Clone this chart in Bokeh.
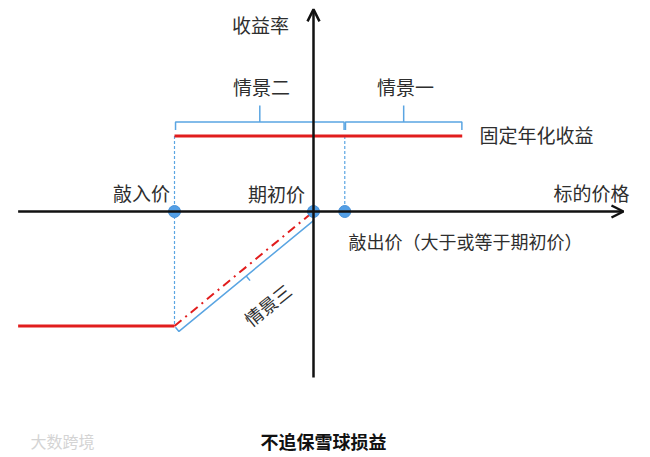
from bokeh.plotting import figure
from bokeh.models import Range1d, ColumnDataSource, Arrow, OpenHead
from bokeh.core.properties import value
from bokeh.embed import file_html
from bokeh.resources import INLINE

# ---------------- data (schematic values) ----------------
knock_in_price = 80.0          # 敲入价
initial_price = 100.0          # 期初价
knock_out_price = 104.5        # 敲出价
fixed_return = 13.2            # 固定年化收益
loss_at_knock_in = knock_in_price - initial_price   # 亏损 (-20)
price_axis_min = 57.5
price_axis_max = 144.6
coupon_line_end = 121.4
return_axis_min = -29.0
return_axis_max = 35.3

key_prices = [knock_in_price, initial_price, knock_out_price]
key_returns = [0.0, 0.0, 0.0]

# ---------------- layout / scales ----------------
W, H = 642, 456
MARGIN = 0
sx, sy = 6.95, 5.725            # pixels per unit
ox_px, oy_px = 313.0, 211.0     # picture pixel of (initial_price, 0)
x0 = initial_price - (ox_px - MARGIN) / sx
x1 = x0 + W / sx
y1 = (oy_px - MARGIN) / sy
y0 = y1 - H / sy


def to_px(x, y):
    return MARGIN + (x - x0) * sx, MARGIN + (y1 - y) * sy


def to_data(X, Y):
    return x0 + (X - MARGIN) / sx, y1 - (Y - MARGIN) / sy


p = figure(width=W, height=H, x_range=Range1d(x0, x1), y_range=Range1d(y0, y1),
           toolbar_location=None, output_backend="svg", min_border=0,
           x_axis_location=None, y_axis_location=None)
p.grid.visible = False
p.outline_line_color = None
p.background_fill_color = "white"

RED = "#e11d1d"
BLUE = "#5aa5e2"
DOT = "#539fe6"
AX = "#111111"
TXT = "#2e2e2e"
FONT = value("Noto Sans CJK SC")

# dashed helper verticals
p.line([knock_in_price, knock_in_price], [fixed_return, loss_at_knock_in + 0.3],
       line_color=BLUE, line_width=1.2, line_dash="3 2")
p.line([knock_out_price, knock_out_price], [fixed_return, 0],
       line_color=BLUE, line_width=1.2, line_dash="3 2")

# red payoff segments
p.line([knock_in_price, coupon_line_end], [fixed_return, fixed_return], line_color=RED, line_width=3)
p.line([price_axis_min, knock_in_price], [loss_at_knock_in, loss_at_knock_in], line_color=RED, line_width=3)
p.line([knock_in_price, initial_price], [loss_at_knock_in, 0], line_color=RED, line_width=2,
       line_dash="9 5 2 5")

# axes with arrows
p.add_layout(Arrow(end=OpenHead(size=12, line_width=2.5, line_color=AX),
                   x_start=price_axis_min, y_start=0, x_end=price_axis_max, y_end=0,
                   line_width=2.5, line_color=AX))
p.add_layout(Arrow(end=OpenHead(size=12, line_width=2.5, line_color=AX),
                   x_start=initial_price, y_start=return_axis_min, x_end=initial_price, y_end=return_axis_max,
                   line_width=2.5, line_color=AX))

# top braces (情景二 : knock-in .. knock-out, 情景一 : knock-out .. coupon end)
_, brace_y = to_data(0, 121.5)
_, brace_tick_low = to_data(0, 129.5)
_, brace_tick_high = to_data(0, 105)
for a, b in [(knock_in_price + 0.15, knock_out_price - 0.1), (knock_out_price + 0.1, coupon_line_end - 0.05)]:
    m = (a + b) / 2
    p.line([a, a, b, b], [brace_tick_low, brace_y, brace_y, brace_tick_low], line_color=BLUE, line_width=1.5)
    p.line([m, m], [brace_y, brace_tick_high], line_color=BLUE, line_width=1.5)

# diagonal brace (情景三) offset from the red diagonal
P0 = to_px(knock_in_price, loss_at_knock_in)
P1 = to_px(initial_price, 0)
dx, dy = P1[0] - P0[0], P1[1] - P0[1]
L = (dx * dx + dy * dy) ** 0.5
ux, uy = dx / L, dy / L
nx, ny = -uy, ux           # normal pointing down-right on screen
off = 7.0
B0 = (P0[0] + off * nx, P0[1] + off * ny)
s_end = (P1[0] - B0[0]) / ux
B1 = (P1[0], B0[1] + s_end * uy)
H0 = (B0[0] - 5.5 * nx, B0[1] - 5.5 * ny)
MID = ((B0[0] + B1[0]) / 2, (B0[1] + B1[1]) / 2)
T1 = (MID[0] + 6 * nx, MID[1] + 6 * ny)
for pts in ([H0, B0, B1], [MID, T1]):
    d = [to_data(*q) for q in pts]
    p.line([q[0] for q in d], [q[1] for q in d], line_color=BLUE, line_width=1.5)

# key points
p.scatter(key_prices, key_returns, size=12, fill_color=DOT, line_color="#4a92d8", line_width=1)

# labels
def add_texts(items, size, color=TXT, style="normal", angle=0.0):
    xs, ys, ts = [], [], []
    for t, X, Y in items:
        dxx, dyy = to_data(X, Y)
        xs.append(dxx); ys.append(dyy); ts.append(t)
    src = ColumnDataSource(dict(x=xs, y=ys, t=ts))
    p.text(x="x", y="y", text="t", source=src, text_font=FONT, text_font_size=size,
           text_color=color, text_align="center", text_baseline="middle",
           text_font_style=style, angle=angle, angle_units="deg")

add_texts([("收益率", 260, 24), ("情景二", 261, 86), ("情景一", 405, 86),
           ("固定年化收益", 536, 134), ("敲入价", 141, 192), ("期初价", 276, 193),
           ("标的价格", 591, 192)], "19px")
add_texts([("敲出价（大于或等于期初价）", 465, 240)], "18px")
add_texts([("情景三", 267, 304)], "18px", angle=39)
add_texts([("不追保雪球损益", 323, 440)], "18px", color="#111111", style="bold")
add_texts([("大数跨境", 62, 440)], "16px", color="#d4d4d4")

open("out.html", "w").write(file_html(p, INLINE))
